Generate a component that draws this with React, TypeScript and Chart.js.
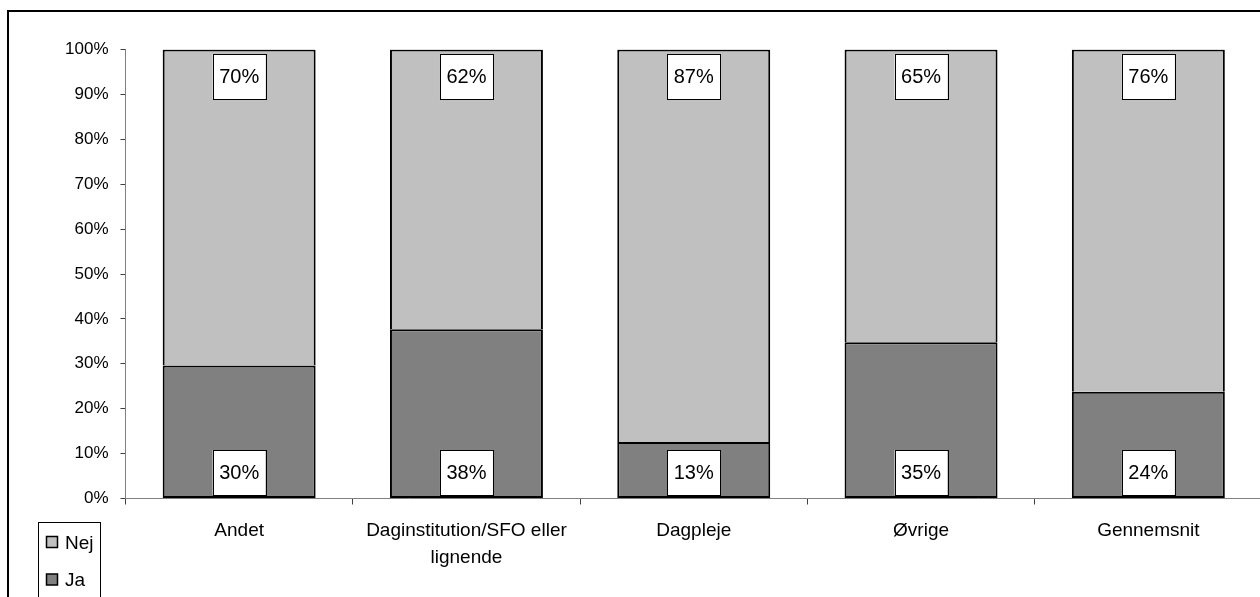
import React, { useEffect, useRef } from "react";
import { Chart, registerables } from "chart.js";

Chart.register(...registerables);

const categories: (string | string[])[] = [
  "Andet",
  ["Daginstitution/SFO eller", "lignende"],
  "Dagpleje",
  "Øvrige",
  "Gennemsnit",
];
const jaValues = [29.6, 37.7, 12.6, 34.8, 23.8];
const nejValues = [70.4, 62.3, 87.4, 65.2, 76.2];
const seriesNames = ["Ja", "Nej"];
const seriesColors = ["#808080", "#C0C0C0"];
const yTicks = [0, 10, 20, 30, 40, 50, 60, 70, 80, 90, 100];

const FONT = "'Liberation Sans', Arial, sans-serif";

const framePlugin = {
  id: "frame",
  beforeDraw(chart: any) {
    const ctx = chart.ctx;
    ctx.save();
    ctx.fillStyle = "#fff";
    ctx.fillRect(0, 0, chart.width, chart.height);
    ctx.strokeStyle = "#000";
    ctx.lineWidth = 2;
    ctx.strokeRect(8, 11, 3000, 3000);
    ctx.restore();
  },
};

const labelPlugin = {
  id: "boxLabels",
  afterDatasetsDraw(chart: any) {
    const ctx = chart.ctx;
    ctx.save();
    ctx.font = `20px ${FONT}`;
    ctx.textAlign = "center";
    ctx.textBaseline = "middle";
    chart.data.datasets.forEach((ds: any, di: number) => {
      const meta = chart.getDatasetMeta(di);
      meta.data.forEach((el: any, i: number) => {
        const w = 53;
        const h = 45;
        const x = el.x - w / 2;
        let y: number;
        if (ds.label === "Nej") {
          y = Math.min(el.y, el.base) + 4.5;
        } else {
          y = Math.max(el.y, el.base) - 3 - h;
        }
        ctx.fillStyle = "#fff";
        ctx.fillRect(x, y, w, h);
        ctx.strokeStyle = "#000";
        ctx.lineWidth = 1;
        ctx.strokeRect(Math.round(x) + 0.5, Math.round(y) + 0.5, w, h);
        ctx.fillStyle = "#000";
        ctx.fillText(Math.round(ds.data[i]) + "%", el.x, y + h / 2 + 1);
      });
    });
    ctx.restore();
  },
};

const legendPlugin = {
  id: "customLegend",
  afterDraw(chart: any) {
    const ctx = chart.ctx;
    ctx.save();
    ctx.strokeStyle = "#000";
    ctx.lineWidth = 1;
    ctx.strokeRect(38.5, 522.5, 62, 200);
    const items = [
      { name: seriesNames[1], color: seriesColors[1], cy: 542 },
      { name: seriesNames[0], color: seriesColors[0], cy: 579.5 },
    ];
    ctx.font = `19px ${FONT}`;
    ctx.textAlign = "left";
    ctx.textBaseline = "alphabetic";
    items.forEach((it) => {
      ctx.fillStyle = it.color;
      ctx.fillRect(46.5, it.cy - 5.5, 11, 11);
      ctx.lineWidth = 1.5;
      ctx.strokeStyle = "#000";
      ctx.strokeRect(46.5, it.cy - 5.5, 11, 11);
      ctx.fillStyle = "#000";
      ctx.fillText(it.name, 65, it.cy + 6.5);
    });
    ctx.restore();
  },
};

export default function App() {
  const ref = useRef<HTMLCanvasElement>(null);
  useEffect(() => {
    document.body.style.margin = "0";
    document.body.style.overflow = "hidden";
    const canvas = ref.current!;
    const chart = new Chart(canvas, {
      type: "bar",
      data: {
        labels: categories,
        datasets: [
          {
            label: seriesNames[0],
            data: jaValues,
            backgroundColor: seriesColors[0],
            borderColor: "#000",
            borderWidth: 2,
            borderSkipped: false,
          },
          {
            label: seriesNames[1],
            data: nejValues,
            backgroundColor: seriesColors[1],
            borderColor: "#000",
            borderWidth: 2,
            borderSkipped: "bottom",
          },
        ],
      },
      options: {
        animation: false,
        responsive: false,
        devicePixelRatio: 1,
        layout: { padding: { top: 49.5, right: 0, left: 0, bottom: 0 } },
        datasets: {
          bar: { categoryPercentage: 1, barPercentage: 0.673 },
        },
        plugins: {
          legend: { display: false },
          tooltip: { enabled: false },
          title: { display: false },
        },
        scales: {
          x: {
            stacked: true,
            grid: {
              display: true,
              drawOnChartArea: false,
              tickLength: 6,
              color: "#404040",
              offset: true,
            },
            border: { display: true, color: "#808080", width: 1 },
            ticks: {
              color: "#000",
              font: { family: FONT, size: 19, lineHeight: 1.45 },
              padding: 12,
              maxRotation: 0,
              autoSkip: false,
            },
            afterFit(scale: any) {
              scale.height = 98.5;
            },
          },
          y: {
            stacked: true,
            min: 0,
            max: 100,
            afterBuildTicks(scale: any) {
              scale.ticks = yTicks.map((v) => ({ value: v }));
            },
            grid: {
              display: true,
              drawOnChartArea: false,
              tickLength: 5,
              color: "#404040",
            },
            border: { display: true, color: "#808080", width: 1 },
            ticks: {
              color: "#000",
              font: { family: FONT, size: 17 },
              padding: 12,
              callback: (v: any) => v + "%",
            },
            afterFit(scale: any) {
              scale.width = 125.5;
            },
          },
        },
      },
      plugins: [framePlugin, labelPlugin, legendPlugin],
    });
    return () => chart.destroy();
  }, []);
  return (
    <canvas
      ref={ref}
      width={1262}
      height={597}
      style={{ display: "block", width: 1262, height: 597 }}
    />
  );
}
